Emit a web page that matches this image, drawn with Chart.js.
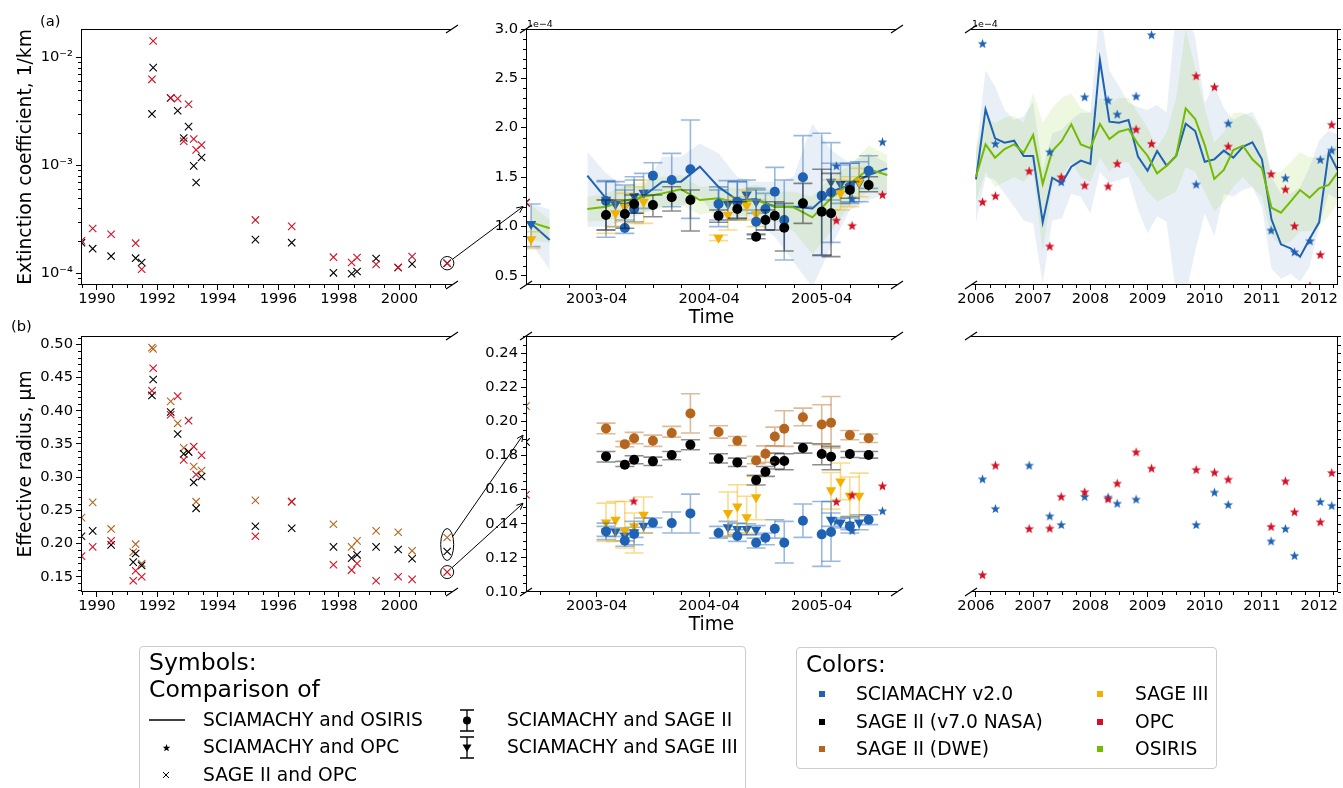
<!DOCTYPE html>
<html lang="en">
<head>
<meta charset="utf-8">
<title>SCIAMACHY aerosol comparisons</title>
<script src="https://cdn.jsdelivr.net/npm/chart.js@4.4.1/dist/chart.umd.min.js"></script>
<style>
  html, body { margin: 0; padding: 0; background: #ffffff; }
  #page { position: relative; width: 1343px; height: 788px; overflow: hidden; background: #ffffff;
          font-family: 'DejaVu Sans', sans-serif; color: #000; }
  #page canvas { position: absolute; left: 0; top: 0; }
  .txt { position: absolute; white-space: nowrap; line-height: 1; }
  .box { position: absolute; border: 1px solid #cccccc; border-radius: 4px; background: #ffffff; }
  .sq { position: absolute; width: 6px; height: 6px; }
  .sym { position: absolute; line-height: 0; }
</style>
</head>
<body>
<div id="page">
  <div class="box" style="left:139px; top:646px; width:605px; height:170px;"></div>
  <div class="box" style="left:796px; top:647px; width:419px; height:120px;"></div>
</div>
<script>
// ---------- SAGE II vs OPC, 1989-2001 (left column) ----------
const extYears = [1989.49, 1989.86, 1990.47, 1991.28, 1991.48, 1991.82, 1991.86, 1992.44, 1992.67, 1992.87, 1993.03, 1993.20,
                  1993.28, 1993.46, 1995.24, 1996.44, 1997.82, 1998.42, 1998.60, 1999.23, 1999.96, 2000.42, 2001.58];
const extSage2 = [1.92e-4, 1.69e-4, 1.44e-4, 1.38e-4, 1.26e-4, 2.99e-3, 8.02e-3, 4.20e-3, 3.20e-3, 1.79e-3, 2.28e-3, 9.87e-4,
                  6.92e-4, 1.18e-3, 2.05e-4, 1.92e-4, 1.01e-4, 0.99e-4, 1.04e-4, 1.37e-4, 1.13e-4, 1.22e-4, 1.24e-4];
const extOpc   = [2.00e-4, 2.60e-4, 2.30e-4, 1.90e-4, 1.09e-4, 6.25e-3, 1.415e-2, 4.20e-3, 4.14e-3, 1.67e-3, 3.67e-3, 1.75e-3,
                  1.39e-3, 1.54e-3, 3.12e-4, 2.72e-4, 1.41e-4, 1.26e-4, 1.40e-4, 1.21e-4, 1.13e-4, 1.43e-4, 1.24e-4];

const radYears = [1989.49, 1989.86, 1990.47, 1991.20, 1991.28, 1991.48, 1991.82, 1991.86, 1992.44, 1992.67, 1992.87, 1993.03,
                  1993.20, 1993.28, 1993.46, 1995.24, 1996.44, 1997.82, 1998.42, 1998.60, 1999.23, 1999.96, 2000.42, 2001.58];
const radDwe   = [0.239, 0.262, 0.222, 0.187, 0.199, 0.170, 0.495, 0.493, 0.414, 0.381, 0.344, 0.338,
                  0.316, 0.263, 0.310, 0.265, 0.263, 0.229, 0.195, 0.204, 0.219, 0.217, 0.189, 0.209];
const radNasa  = [0.211, 0.219, 0.198, 0.172, 0.185, 0.167, 0.423, 0.447, 0.398, 0.365, 0.335, 0.338,
                  0.292, 0.253, 0.301, 0.226, 0.223, 0.195, 0.178, 0.183, 0.195, 0.191, 0.177, 0.188];
const radOpc   = [0.181, 0.195, 0.204, 0.144, 0.159, 0.150, 0.430, 0.464, 0.394, 0.422, 0.326, 0.385,
                  0.346, 0.304, 0.333, 0.211, 0.263, 0.168, 0.160, 0.170, 0.144, 0.150, 0.146, 0.157];

// ---------- 2002-2005 (middle column), extinction in 1e-4 / km ----------
const midLineYearsEarly = [2002.667, 2002.833];
const midLineYears = [2003.167, 2003.333, 2003.5, 2003.667, 2003.833, 2004.0, 2004.167, 2004.333, 2004.5,
                      2004.667, 2004.833, 2005.0, 2005.167, 2005.333, 2005.5, 2005.667, 2005.833];
const sciaOsirisEarly = [1.03, 0.861];
const osirisEarly     = [1.04, 0.98];
const sciaOsiris = [1.514, 1.284, 1.223, 1.307, 1.453, 1.453, 1.605, 1.40, 1.267, 1.274, 1.199, 1.199, 1.182, 1.351, 1.419, 1.520, 1.588];
const osiris     = [1.176, 1.199, 1.26, 1.30, 1.334, 1.375, 1.267, 1.284, 1.240, 1.267, 1.199, 1.193, 1.091, 1.284, 1.436, 1.578, 1.520];
const sciaBandHiEarly = [1.23, 1.17];
const sciaBandLoEarly = [0.83, 0.56];
const sciaBandHi = [1.757, 1.537, 1.40, 1.40, 1.706, 1.706, 1.84, 1.74, 1.50, 1.453, 1.453, 1.50, 2.04, 1.774, 1.64, 1.74, 1.64];
const sciaBandLo = [0.997, 0.997, 1.064, 1.13, 1.20, 1.20, 1.30, 1.064, 1.098, 1.047, 0.895, 0.642, 0.38, 0.794, 1.166, 1.267, 1.334];
const osirisBandHiEarly = [1.216, 1.064];
const osirisBandLoEarly = [0.861, 0.83];
const osirisBandHi = [1.30, 1.33, 1.42, 1.45, 1.50, 1.52, 1.40, 1.42, 1.38, 1.42, 1.35, 1.35, 1.30, 1.50, 1.62, 1.82, 1.72];
const osirisBandLo = [1.05, 1.06, 1.10, 1.15, 1.18, 1.22, 1.12, 1.15, 1.10, 1.12, 1.05, 0.95, 0.72, 0.95, 1.22, 1.35, 1.32];

const sage2Years = [2003.333, 2003.5, 2003.583, 2003.75, 2003.917, 2004.083, 2004.333, 2004.5, 2004.667,
                    2004.75, 2004.833, 2004.917, 2005.083, 2005.25, 2005.333, 2005.5, 2005.667];
const sciaVsSage2Ext   = [1.257, 0.983, 1.176, 1.514, 1.470, 1.578, 1.226, 1.25, 1.047, 1.176, 1.351, 1.064, 1.497, 1.311, 1.345, 1.40, 1.564];
const sciaVsSage2ExtLo = [0.889, 0.929, 1.047, 1.368, 1.199, 1.081, 1.064, 1.081, 0.912, 0.963, 1.216, 0.659, 1.20, 0.703, 0.838, 1.233, 1.385];
const sciaVsSage2ExtHi = [1.463, 1.419, 1.503, 1.645, 1.740, 2.078, 1.368, 1.453, 1.368, 1.334, 1.598, 1.470, 1.919, 1.943, 1.848, 1.639, 1.716];
const sage2Ext   = [1.115, 1.125, 1.226, 1.216, 1.294, 1.267, 1.108, 1.176, 0.895, 1.064, 1.108, 0.986, 1.233, 1.149, 1.132, 1.368, 1.419];
const sage2ExtLo = [0.963, 0.980, 1.132, 1.098, 1.155, 0.953, 1.041, 1.081, 0.875, 0.963, 0.963, 0.75, 1.03, 0.709, 0.693, 1.284, 1.351];
const sage2ExtHi = [1.267, 1.267, 1.318, 1.318, 1.402, 1.368, 1.166, 1.25, 0.922, 1.166, 1.25, 1.233, 1.436, 1.578, 1.537, 1.453, 1.503];

const sage3Years = [2002.667, 2003.333, 2003.417, 2003.5, 2003.583, 2003.667, 2004.333, 2004.417, 2004.5,
                    2004.583, 2004.667, 2005.333, 2005.417, 2005.5, 2005.583];
const sciaVsSage3Ext   = [1.024, 1.27, 1.223, 1.20, 1.307, 1.341, 1.22, 1.226, 1.25, 1.324, 1.25, 1.453, 1.429, 1.40, 1.44];
const sciaVsSage3ExtLo = [0.794, 0.963, 0.997, 1.064, 1.132, 1.182, 0.997, 1.064, 1.064, 1.166, 1.132, 1.267, 1.233, 1.25, 1.25];
const sciaVsSage3ExtHi = [1.226, 1.453, 1.453, 1.368, 1.47, 1.537, 1.40, 1.463, 1.453, 1.47, 1.385, 1.639, 1.622, 1.639, 1.655];
const sage3Ext   = [0.868, 1.25, 1.132, 1.199, 1.21, 1.25, 0.885, 1.115, 1.20, 1.209, 1.122, 1.334, 1.334, 1.38, 1.453];
const sage3ExtLo = [0.777, 0.929, 0.997, 1.047, 1.03, 1.03, 0.855, 0.963, 1.064, 1.064, 0.997, 1.166, 1.166, 1.20, 1.30];
const sage3ExtHi = [0.946, 1.267, 1.267, 1.334, 1.402, 1.47, 0.912, 1.267, 1.30, 1.368, 1.267, 1.47, 1.47, 1.503, 1.588];

const opcMidYears = [2003.58, 2005.38, 2005.52, 2005.79];
const sciaVsOpcMidExt = [null, 1.615, 1.284, 1.858];
const opcMidExt       = [null, 1.064, 1.01, 1.324];

// ---------- 2002-2005 (middle column), effective radius in µm ----------
const sciaVsSage2Rad   = [0.1355, 0.1301, 0.134, 0.1406, 0.1404, 0.1461, 0.1346, 0.1328, 0.1289, 0.1318, 0.1371, 0.1289, 0.1418, 0.1338, 0.1352, 0.1385, 0.1424];
const sciaVsSage2RadLo = [0.1307, 0.1268, 0.1277, 0.1379, 0.1346, 0.1346, 0.1316, 0.1297, 0.1258, 0.1277, 0.1316, 0.1170, 0.1320, 0.1150, 0.1180, 0.1346, 0.1395];
const sciaVsSage2RadHi = [0.1404, 0.1346, 0.1414, 0.1434, 0.1469, 0.1574, 0.1385, 0.1365, 0.1316, 0.1346, 0.1424, 0.1414, 0.1516, 0.1531, 0.1531, 0.1443, 0.1453];
const sage2NasaRad   = [0.1795, 0.1746, 0.1775, 0.1766, 0.1803, 0.1863, 0.1781, 0.1760, 0.1656, 0.1705, 0.1768, 0.1768, 0.1844, 0.1809, 0.1793, 0.1809, 0.1803];
const sage2NasaRadLo = [0.1762, 0.1736, 0.1752, 0.1742, 0.1775, 0.1834, 0.1756, 0.1736, 0.1627, 0.1678, 0.1721, 0.1717, 0.1814, 0.1746, 0.1717, 0.1789, 0.1785];
const sage2NasaRadHi = [0.1824, 0.1766, 0.1799, 0.1791, 0.1824, 0.1893, 0.1811, 0.1785, 0.1684, 0.1736, 0.1814, 0.1811, 0.1873, 0.1869, 0.1854, 0.1824, 0.1824];
const sage2DweRad   = [0.1959, 0.1867, 0.1902, 0.1887, 0.1932, 0.2047, 0.1938, 0.1887, 0.1771, 0.1811, 0.1912, 0.1957, 0.2025, 0.1982, 0.1992, 0.1920, 0.1902];
const sage2DweRadLo = [0.1928, 0.1852, 0.1869, 0.1854, 0.1908, 0.1932, 0.1902, 0.1859, 0.1752, 0.1760, 0.1857, 0.1854, 0.1975, 0.1863, 0.1844, 0.1893, 0.1877];
const sage2DweRadHi = [0.1990, 0.1883, 0.1936, 0.1920, 0.1971, 0.2162, 0.1975, 0.1912, 0.1795, 0.1857, 0.1967, 0.2063, 0.2078, 0.2098, 0.2146, 0.1947, 0.1926];

const sciaVsSage3Rad   = [null, 0.1355, 0.1355, 0.133, 0.135, 0.1389, null, 0.1379, 0.1369, 0.1369, 0.1365, 0.1424, 0.1408, 0.1395, 0.1408];
const sciaVsSage3RadLo = [null, 0.1326, 0.1326, 0.130, 0.132, 0.1346, null, 0.1326, 0.1336, 0.1336, 0.1336, 0.1385, 0.1375, 0.1365, 0.1365];
const sciaVsSage3RadHi = [null, 0.1385, 0.1375, 0.136, 0.138, 0.1434, null, 0.1414, 0.1404, 0.1400, 0.1389, 0.1463, 0.1434, 0.1434, 0.1453];
const sage3Rad   = [null, 0.1408, 0.1424, 0.1361, 0.1385, 0.1453, null, 0.1463, 0.1502, 0.1439, 0.1555, 0.1596, 0.1648, 0.1564, 0.1564];
const sage3RadLo = [null, 0.1297, 0.1297, 0.1258, 0.1229, 0.1346, null, 0.1326, 0.1346, 0.1346, 0.1424, 0.1486, 0.1541, 0.1443, 0.1443];
const sage3RadHi = [null, 0.1521, 0.1531, 0.1531, 0.1463, 0.1557, null, 0.1586, 0.1629, 0.1561, 0.1678, 0.1701, 0.1756, 0.1674, 0.1697];

const sciaVsOpcMidRad = [null, 0.1415, 0.1361, 0.1477];
const opcMidRad       = [0.1535, 0.1531, 0.157, 0.1623];

// ---------- 2006-2012 (right column) ----------
const osirisYears = [2006.0, 2006.167, 2006.333, 2006.5, 2006.667, 2006.833, 2007.0, 2007.167, 2007.333, 2007.5,
                     2007.667, 2007.833, 2008.0, 2008.167, 2008.333, 2008.5, 2008.667, 2008.833, 2009.0, 2009.167,
                     2009.333, 2009.5, 2009.667, 2009.833, 2010.0, 2010.167, 2010.333, 2010.5, 2010.667, 2010.833,
                     2011.0, 2011.167, 2011.333, 2011.5, 2011.667, 2011.833, 2012.0, 2012.167, 2012.333];
const sciaOsirisLate = [1.476, 2.186, 1.892, 1.848, 1.868, 1.713, 1.713, 1.041, 1.493, 1.436,
                        1.605, 1.666, 1.632, 2.686, 2.061, 2.051, 2.078, 1.706, 1.564, 1.764,
                        1.615, 1.713, 2.041, 1.966, 1.655, 1.679, 1.767, 1.696, 1.807, 1.851,
                        1.679, 1.071, 0.818, 0.777, 0.693, 0.872, 1.041, 1.747, 1.561];
const osirisLate = [1.503, 1.831, 1.696, 1.784, 1.831, 1.747, 1.926, 1.429, 1.764, 1.865,
                    2.034, 1.831, 1.791, 2.037, 1.885, 1.959, 1.986, 1.834, 1.716, 1.537,
                    1.615, 1.716, 2.196, 2.088, 1.824, 1.480, 1.571, 1.774, 1.818, 1.679,
                    1.588, 1.189, 1.139, 1.250, 1.368, 1.291, 1.385, 1.419, 1.554];
const sciaBandHiLate = [1.74, 2.58, 2.42, 2.18, 2.08, 2.11, 2.26, 1.57, 1.94, 1.98,
                        2.08, 2.15, 2.15, 3.2, 2.58, 2.42, 2.25, 2.21, 2.18, 2.23,
                        2.15, 3.2, 3.2, 2.92, 2.25, 2.43, 2.20, 2.08, 2.13, 2.16,
                        1.98, 1.50, 1.33, 1.33, 1.40, 1.60, 1.87, 1.97, 1.93];
const sciaBandLoLate = [1.04, 1.50, 1.47, 1.33, 1.20, 1.06, 1.03, 0.42, 1.06, 1.08,
                        1.33, 1.30, 1.13, 1.55, 1.44, 1.47, 1.50, 1.17, 0.93, 1.10,
                        1.05, 0.30, 0.30, 0.75, 1.13, 0.90, 1.33, 1.30, 1.37, 1.40,
                        1.20, 0.57, 0.47, 0.52, 0.44, 0.59, 1.00, 1.33, 1.27];
const osirisBandHiLate = [1.80, 2.10, 2.05, 2.10, 2.12, 2.05, 2.35, 2.05, 2.20, 2.30,
                          2.35, 2.20, 2.15, 2.30, 2.25, 2.30, 2.30, 2.15, 2.00, 1.80,
                          1.95, 2.30, 3.00, 2.60, 2.20, 1.85, 1.95, 2.15, 2.15, 2.10,
                          1.95, 1.55, 1.55, 1.65, 1.75, 1.70, 1.70, 1.75, 1.85];
const osirisBandLoLate = [1.25, 1.55, 1.40, 1.45, 1.50, 1.45, 1.55, 0.75, 1.40, 1.50,
                          1.65, 1.50, 1.45, 1.70, 1.55, 1.65, 1.65, 1.50, 1.35, 1.25,
                          1.30, 1.35, 1.60, 1.55, 1.35, 1.15, 1.25, 1.40, 1.50, 1.40,
                          1.30, 0.90, 0.80, 0.85, 0.95, 0.95, 1.00, 1.10, 1.25];

const opcYears = [2006.115, 2006.34, 2006.93, 2007.29, 2007.49, 2007.90, 2008.31, 2008.47, 2008.80, 2009.07,
                  2009.85, 2010.17, 2010.41, 2011.16, 2011.41, 2011.57, 2011.84, 2012.02, 2012.22];
const sciaVsOpcExt = [2.855, 1.841, null, 1.757, 1.453, 2.314, 2.280, 2.139, 2.321, 2.943,
                      1.429, null, 2.047, 0.963, 1.493, 0.743, 0.855, 1.679, 1.774];
const opcExt = [1.25, 1.311, 1.564, 0.801, 1.503, 1.419, 1.409, 1.639, 1.986, 1.841,
                2.527, 2.416, 1.814, 1.534, 1.378, 1.007, 0.399, 0.716, 2.034];
const sciaVsOpcRad = [0.1664, 0.149, 0.1744, 0.1447, 0.1396, 0.1561, 0.1557, 0.1521, 0.1545, null,
                      0.1396, 0.1586, 0.1514, 0.130, 0.1373, 0.1215, null, 0.1531, 0.1508];
const opcRad = [0.1102, 0.1744, 0.1373, 0.1375, 0.1561, 0.1588, 0.1547, 0.1639, 0.1822, 0.1727,
                0.1719, 0.1703, 0.1662, 0.1385, 0.1652, 0.1471, null, 0.1412, 0.1701];

// ---------- tick values and labels ----------
const leftYearTicks = [1990, 1992, 1994, 1996, 1998, 2000];
const leftYearLabels = ['1990', '1992', '1994', '1996', '1998', '2000'];
const midMonthTicks = [2003.25, 2004.25, 2005.25];
const midMonthLabels = ['2003-04', '2004-04', '2005-04'];
const rightYearTicks = [2006, 2007, 2008, 2009, 2010, 2011, 2012];
const rightYearLabels = ['2006', '2007', '2008', '2009', '2010', '2011', '2012'];
const extLogTicks = [1e-4, 1e-3, 1e-2];
const extLogLabels = ['10\u207B\u2074', '10\u207B\u00B3', '10\u207B\u00B2'];
const radLeftTicks = [0.15, 0.20, 0.25, 0.30, 0.35, 0.40, 0.45, 0.50];
const radLeftLabels = ['0.15', '0.20', '0.25', '0.30', '0.35', '0.40', '0.45', '0.50'];
const extTicks = [0.5, 1.0, 1.5, 2.0, 2.5, 3.0];
const extLabels = ['0.5', '1.0', '1.5', '2.0', '2.5', '3.0'];
const radTicks = [0.10, 0.12, 0.14, 0.16, 0.18, 0.20, 0.22, 0.24];
const radLabels = ['0.10', '0.12', '0.14', '0.16', '0.18', '0.20', '0.22', '0.24'];

// ---------- colours ----------
const SCIA = '#1f62b3', NASA = '#000000', DWE = '#b5651d', SAGE3 = '#f2b000', OPC = '#d50f25', OSIRIS = '#73bb00';

// ---------- page layout ----------
const PW = 1343, PH = 788;
const rowA = { top: 29, bottom: 285 }, rowB = { top: 336, bottom: 592 };
const colL = { left: 81, right: 452 }, colM = { left: 526, right: 897 }, colR = { left: 971, right: 1342 };
const LEFT_YW = 70.2, MID_YW = 50, SIDE_XH = 30, MID_XH = 48.2;

const xLeft = { min: 1989.474, max: 2001.739 };
const xMid = { min: 2002.622, max: 2005.919 };
const xRight = { min: 2005.913, max: 2012.33 };

const page = document.getElementById('page');
const last = a => a[a.length - 1];

Chart.defaults.font.family = "'DejaVu Sans', sans-serif";
Chart.defaults.font.size = 14.7;
Chart.defaults.color = '#000';

function rgba(hex, a) {
    const n = parseInt(hex.slice(1), 16);
    return `rgba(${n >> 16},${(n >> 8) & 255},${n & 255},${a})`;
}

function pts(xs, ys) {
    return xs.map((x, i) => ({ x, y: ys[i] }));
}

// filled five-pointed star used as a point style
function starImage(color, size) {
    const c = document.createElement('canvas');
    c.width = c.height = size;
    const g = c.getContext('2d');
    const R = size / 2 - 0.5, r = R * 0.42, m = size / 2;
    g.beginPath();
    for (let i = 0; i < 10; i++) {
        const a = -Math.PI / 2 + i * Math.PI / 5;
        const rr = i % 2 ? r : R;
        g.lineTo(m + rr * Math.cos(a), m + 0.6 + rr * Math.sin(a));
    }
    g.closePath();
    g.fillStyle = color;
    g.fill();
    return c;
}
const STAR_SCIA = starImage(SCIA, 11);
const STAR_OPC = starImage(OPC, 11);

// ---------- dataset builders ----------
function crosses(xs, ys, color, order) {
    return { data: pts(xs, ys), showLine: false, clip: 0, order,
        pointStyle: 'crossRot', pointRadius: 5.2, pointHoverRadius: 5.2,
        pointBorderColor: color, pointBackgroundColor: color, pointBorderWidth: 1.1 };
}
function markers(xs, ys, color, style, order, lo, hi) {
    const tri = style === 'triangle';
    return { data: pts(xs, ys), showLine: false, clip: 0, order,
        pointStyle: style, pointRadius: tri ? 6 : 5, pointHoverRadius: tri ? 6 : 5, pointRotation: tri ? 180 : 0,
        pointBackgroundColor: color, pointBorderColor: color, pointBorderWidth: 0,
        errLo: lo, errHi: hi, errColor: rgba(color, 0.45) };
}
function stars(xs, ys, img, order) {
    return { data: pts(xs, ys), showLine: false, clip: 0, order,
        pointStyle: img, pointRadius: 5, pointHoverRadius: 5, pointBorderWidth: 0 };
}
function curve(xs, ys, color, order) {
    return { data: pts(xs, ys), showLine: true, clip: 0, order, fill: false,
        borderColor: color, borderWidth: 2, pointRadius: 0, pointHoverRadius: 0 };
}
function band(xs, hi, lo, color, order) {
    const edge = { showLine: true, clip: 0, order, borderWidth: 0, borderColor: 'rgba(0,0,0,0)', pointRadius: 0, pointHoverRadius: 0 };
    return [
        Object.assign({ data: pts(xs, hi), fill: '+1', backgroundColor: color }, edge),
        Object.assign({ data: pts(xs, lo), fill: false }, edge)
    ];
}

// ---------- axes ----------
function axis(o) {
    return {
        type: o.type || 'linear', position: o.position, min: o.min, max: o.max, bounds: 'data',
        display: o.display !== false,
        afterBuildTicks: s => { s.ticks = o.ticks.map(v => ({ value: v })); },
        afterFit: s => {
            if (s.isHorizontal()) s.height = o.size; else s.width = o.size;
            s.paddingLeft = s.paddingRight = s.paddingTop = s.paddingBottom = 0;
        },
        ticks: { autoSkip: false, maxRotation: 0, minRotation: 0, padding: o.pad, font: { size: 14.7 }, color: '#000',
                 callback: (v, i) => o.labels[i] },
        grid: { drawOnChartArea: false, drawTicks: true, tickLength: 5, color: '#000', tickColor: '#000', tickWidth: 1, lineWidth: 1 },
        border: { display: false },
        title: { display: !!o.title, text: o.title || '', font: { size: 18.7 }, color: '#000', padding: { top: 4, bottom: 4 } }
    };
}

function steps(a, b, step, skip) {
    const out = [];
    for (let k = Math.ceil(a / step - 1e-9); k * step <= b + 1e-9; k++) {
        const v = +(k * step).toFixed(6);
        if (!(skip || []).some(m => Math.abs(m - v) < 1e-6)) out.push(v);
    }
    return out;
}
function logMinors(min, max) {
    const out = [];
    for (let e = -5; e <= -1; e++) for (let m = 2; m <= 9; m++) {
        const v = m * Math.pow(10, e);
        if (v >= min && v <= max) out.push(v);
    }
    return out;
}

// ---------- drawing helpers ----------
function ringGeom(chart, r) {
    const px = chart.scales.x.getPixelForValue(r.x);
    const py = r.ys.map(v => chart.scales.y.getPixelForValue(v));
    const lo = Math.min(...py), hi = Math.max(...py);
    return { cx: px, cy: (lo + hi) / 2, rx: r.rx, ry: (hi - lo) / 2 + r.pad };
}

function drawArrow(ctx, x0, y0, x1, y1) {
    const ang = Math.atan2(y1 - y0, x1 - x0), L = 7, s = 0.45;
    ctx.beginPath();
    ctx.moveTo(x0, y0);
    ctx.lineTo(x1, y1);
    ctx.moveTo(x1 - L * Math.cos(ang - s), y1 - L * Math.sin(ang - s));
    ctx.lineTo(x1, y1);
    ctx.lineTo(x1 - L * Math.cos(ang + s), y1 - L * Math.sin(ang + s));
    ctx.stroke();
}

// vertical error bars with caps, drawn just under their markers
const errorBars = {
    id: 'errorBars',
    beforeDatasetDraw(chart, args) {
        const ds = chart.data.datasets[args.index];
        if (!ds.errLo) return;
        const { ctx, chartArea: a, scales: { x, y } } = chart;
        ctx.save();
        ctx.beginPath();
        ctx.rect(a.left, a.top, a.right - a.left, a.bottom - a.top);
        ctx.clip();
        ctx.strokeStyle = ds.errColor;
        ctx.lineWidth = 1.6;
        ds.data.forEach((p, i) => {
            if (p.y == null || ds.errLo[i] == null) return;
            const px = x.getPixelForValue(p.x);
            const y1 = y.getPixelForValue(ds.errLo[i]), y2 = y.getPixelForValue(ds.errHi[i]);
            ctx.beginPath();
            ctx.moveTo(px, y1); ctx.lineTo(px, y2);
            ctx.moveTo(px - 9.5, y1); ctx.lineTo(px + 9.5, y1);
            ctx.moveTo(px - 9.5, y2); ctx.lineTo(px + 9.5, y2);
            ctx.stroke();
        });
        ctx.restore();
    }
};

// spines, minor ticks, axis-break marks and rings around highlighted points
const frame = {
    id: 'frame',
    afterDraw(chart, args, o) {
        if (!o.spines) return;
        const { ctx, chartArea: a, scales: { x, y } } = chart;
        ctx.save();
        ctx.strokeStyle = '#000';
        ctx.lineWidth = 1;
        ctx.beginPath();
        const L = a.left + 0.5, R = a.right - 0.5, T = a.top + 0.5, B = a.bottom - 0.5;
        if (o.spines.includes('left')) { ctx.moveTo(L, a.top); ctx.lineTo(L, a.bottom); }
        if (o.spines.includes('right')) { ctx.moveTo(R, a.top); ctx.lineTo(R, a.bottom); }
        if (o.spines.includes('top')) { ctx.moveTo(a.left, T); ctx.lineTo(a.right, T); }
        if (o.spines.includes('bottom')) { ctx.moveTo(a.left, B); ctx.lineTo(a.right, B); }
        (o.minorX || []).forEach(v => {
            const px = Math.round(x.getPixelForValue(v)) + 0.5;
            if (px < a.left - 1 || px > a.right + 1) return;
            ctx.moveTo(px, a.bottom); ctx.lineTo(px, a.bottom + 3);
        });
        const right = o.ySide === 'right';
        const yx = right ? a.right : a.left, dir = right ? 1 : -1;
        (o.minorY || []).forEach(v => {
            const py = Math.round(y.getPixelForValue(v)) + 0.5;
            if (py < a.top - 1 || py > a.bottom + 1) return;
            ctx.moveTo(yx, py); ctx.lineTo(yx + dir * 3, py);
        });
        (o.majorY || []).forEach(v => {
            const py = Math.round(y.getPixelForValue(v)) + 0.5;
            ctx.moveTo(yx, py); ctx.lineTo(yx + dir * 5, py);
        });
        ctx.stroke();
        ctx.lineWidth = 1.2;
        ctx.beginPath();
        (o.breaks || []).forEach(([sx, sy]) => {
            const cx = sx === 'left' ? a.left : a.right, cy = sy === 'top' ? a.top : a.bottom;
            ctx.moveTo(cx - 6, cy + 4); ctx.lineTo(cx + 6, cy - 4);
        });
        ctx.stroke();
        ctx.lineWidth = 1;
        (o.rings || []).forEach(r => {
            const g = ringGeom(chart, r);
            ctx.beginPath();
            ctx.ellipse(g.cx, g.cy, g.rx, g.ry, 0, 0, 2 * Math.PI);
            ctx.stroke();
        });
        ctx.restore();
    }
};
Chart.register(errorBars, frame);

// arrows from ringed points in the 1990s panel to the left edge of the 2003-05 panel
function links(src, list) {
    return {
        id: 'links',
        afterDraw(chart) {
            const { ctx, chartArea: a, scales: { y } } = chart;
            ctx.save();
            ctx.strokeStyle = '#000';
            ctx.lineWidth = 1;
            list.forEach(l => {
                const g = ringGeom(src, l.ring);
                const ex = a.left - 3, ey = y.getPixelForValue(l.target);
                const dx = ex - g.cx, dy = ey - g.cy;
                const t = 1 / Math.hypot(dx / g.rx, dy / g.ry);
                drawArrow(ctx, g.cx + dx * t, g.cy + dy * t, ex, ey);
            });
            ctx.restore();
        }
    };
}

function panel(area, yW, xH, xAx, yAx, datasets, frameOpts, plugins) {
    const c = document.createElement('canvas');
    c.width = PW; c.height = PH;
    page.appendChild(c);
    return new Chart(c, {
        type: 'line',
        data: { datasets },
        options: {
            responsive: false, animation: false, devicePixelRatio: 1, events: [],
            layout: { padding: { left: area.left - yW, top: area.top, right: PW - area.right, bottom: PH - area.bottom - xH } },
            plugins: { legend: { display: false }, tooltip: { enabled: false }, frame: frameOpts },
            scales: { x: xAx, y: yAx }
        },
        plugins: plugins || []
    });
}

// ---------- row (a): extinction ----------
const ringA = { x: last(extYears), ys: [last(extOpc)], rx: 6.7, pad: 6.7 };
const extLogMin = 7.79e-5, extLogMax = 1.828e-2;

const chartLA = panel({ ...colL, ...rowA }, LEFT_YW, SIDE_XH,
    axis({ ...xLeft, ticks: leftYearTicks, labels: leftYearLabels, size: SIDE_XH, pad: 0 }),
    axis({ type: 'logarithmic', min: extLogMin, max: extLogMax, ticks: extLogTicks, labels: extLogLabels,
           size: LEFT_YW, pad: 3, title: 'Extinction coefficient, 1/km' }),
    [crosses(extYears, extSage2, NASA, 2), crosses(extYears, extOpc, OPC, 1)],
    { spines: ['left', 'top', 'bottom'], breaks: [['right', 'top'], ['right', 'bottom']],
      minorX: steps(1989.5, 2001.5, 0.5, leftYearTicks), minorY: logMinors(extLogMin, extLogMax), rings: [ringA] });

const chartMA = panel({ ...colM, ...rowA }, MID_YW, MID_XH,
    axis({ ...xMid, ticks: midMonthTicks, labels: midMonthLabels, size: MID_XH, pad: 0, title: 'Time' }),
    axis({ min: 0.4056, max: 3.0, ticks: extTicks, labels: extLabels, size: MID_YW, pad: 3 }),
    [
        ...band(midLineYearsEarly, sciaBandHiEarly, sciaBandLoEarly, rgba(SCIA, 0.1), 60),
        ...band(midLineYears, sciaBandHi, sciaBandLo, rgba(SCIA, 0.1), 60),
        ...band(midLineYearsEarly, osirisBandHiEarly, osirisBandLoEarly, rgba(OSIRIS, 0.12), 55),
        ...band(midLineYears, osirisBandHi, osirisBandLo, rgba(OSIRIS, 0.12), 55),
        curve(midLineYearsEarly, sciaOsirisEarly, SCIA, 41), curve(midLineYears, sciaOsiris, SCIA, 41),
        curve(midLineYearsEarly, osirisEarly, OSIRIS, 40), curve(midLineYears, osiris, OSIRIS, 40),
        markers(sage3Years, sciaVsSage3Ext, SCIA, 'triangle', 31, sciaVsSage3ExtLo, sciaVsSage3ExtHi),
        markers(sage3Years, sage3Ext, SAGE3, 'triangle', 30, sage3ExtLo, sage3ExtHi),
        markers(sage2Years, sciaVsSage2Ext, SCIA, 'circle', 21, sciaVsSage2ExtLo, sciaVsSage2ExtHi),
        markers(sage2Years, sage2Ext, NASA, 'circle', 20, sage2ExtLo, sage2ExtHi),
        stars(opcMidYears, sciaVsOpcMidExt, STAR_SCIA, 11), stars(opcMidYears, opcMidExt, STAR_OPC, 10),
        crosses([xMid.min], [last(extSage2) * 1e4], NASA, 6), crosses([xMid.min], [last(extOpc) * 1e4], OPC, 5)
    ],
    { spines: ['left', 'top', 'bottom'], breaks: [['left', 'top'], ['left', 'bottom'], ['right', 'top'], ['right', 'bottom']],
      minorX: steps(2002.75, 2005.75, 0.25, midMonthTicks), minorY: steps(0.5, 3.0, 0.1, extTicks) },
    [links(chartLA, [{ ring: ringA, target: 1.2 }])]);

const chartRA = panel({ ...colR, ...rowA }, 0, SIDE_XH,
    axis({ ...xRight, ticks: rightYearTicks, labels: rightYearLabels, size: SIDE_XH, pad: 0 }),
    axis({ min: 0.4056, max: 3.0, ticks: extTicks, labels: extLabels, size: 0, pad: 3, display: false }),
    [
        ...band(osirisYears, sciaBandHiLate, sciaBandLoLate, rgba(SCIA, 0.1), 60),
        ...band(osirisYears, osirisBandHiLate, osirisBandLoLate, rgba(OSIRIS, 0.12), 55),
        curve(osirisYears, sciaOsirisLate, SCIA, 41), curve(osirisYears, osirisLate, OSIRIS, 40),
        stars(opcYears, sciaVsOpcExt, STAR_SCIA, 11), stars(opcYears, opcExt, STAR_OPC, 10)
    ],
    { spines: ['top', 'right', 'bottom'], breaks: [['left', 'top'], ['left', 'bottom']],
      minorX: steps(2006, 2012.25, 0.25, rightYearTicks), minorY: steps(0.5, 3.0, 0.1), ySide: 'right' });

// ---------- row (b): effective radius ----------
const ringB1 = { x: last(radYears), ys: [last(radDwe), last(radNasa)], rx: 6.5, pad: 9 };
const ringB2 = { x: last(radYears), ys: [last(radOpc)], rx: 6.5, pad: 6.5 };

const chartLB = panel({ ...colL, ...rowB }, LEFT_YW, SIDE_XH,
    axis({ ...xLeft, ticks: leftYearTicks, labels: leftYearLabels, size: SIDE_XH, pad: 0 }),
    axis({ min: 0.127, max: 0.5125, ticks: radLeftTicks, labels: radLeftLabels, size: LEFT_YW, pad: 3,
           title: 'Effective radius, \u00B5m' }),
    [crosses(radYears, radDwe, DWE, 3), crosses(radYears, radNasa, NASA, 2), crosses(radYears, radOpc, OPC, 1)],
    { spines: ['left', 'top', 'bottom'], breaks: [['right', 'top'], ['right', 'bottom']],
      minorX: steps(1989.5, 2001.5, 0.5, leftYearTicks), minorY: steps(0.13, 0.51, 0.01, radLeftTicks), rings: [ringB1, ringB2] });

const chartMB = panel({ ...colM, ...rowB }, MID_YW, MID_XH,
    axis({ ...xMid, ticks: midMonthTicks, labels: midMonthLabels, size: MID_XH, pad: 0, title: 'Time' }),
    axis({ min: 0.10, max: 0.2501, ticks: radTicks, labels: radLabels, size: MID_YW, pad: 3 }),
    [
        markers(sage3Years, sciaVsSage3Rad, SCIA, 'triangle', 31, sciaVsSage3RadLo, sciaVsSage3RadHi),
        markers(sage3Years, sage3Rad, SAGE3, 'triangle', 30, sage3RadLo, sage3RadHi),
        markers(sage2Years, sciaVsSage2Rad, SCIA, 'circle', 22, sciaVsSage2RadLo, sciaVsSage2RadHi),
        markers(sage2Years, sage2NasaRad, NASA, 'circle', 21, sage2NasaRadLo, sage2NasaRadHi),
        markers(sage2Years, sage2DweRad, DWE, 'circle', 20, sage2DweRadLo, sage2DweRadHi),
        stars(opcMidYears, sciaVsOpcMidRad, STAR_SCIA, 11), stars(opcMidYears, opcMidRad, STAR_OPC, 10),
        crosses([xMid.min], [last(radDwe)], DWE, 7), crosses([xMid.min], [last(radNasa)], NASA, 6),
        crosses([xMid.min], [last(radOpc)], OPC, 5)
    ],
    { spines: ['left', 'top', 'bottom'], breaks: [['left', 'top'], ['left', 'bottom'], ['right', 'top'], ['right', 'bottom']],
      minorX: steps(2002.75, 2005.75, 0.25, midMonthTicks), minorY: steps(0.10, 0.25, 0.005, radTicks) },
    [links(chartLB, [{ ring: ringB1, target: 0.192 }, { ring: ringB2, target: 0.152 }])]);

const chartRB = panel({ ...colR, ...rowB }, 0, SIDE_XH,
    axis({ ...xRight, ticks: rightYearTicks, labels: rightYearLabels, size: SIDE_XH, pad: 0 }),
    axis({ min: 0.10, max: 0.2501, ticks: radTicks, labels: radLabels, size: 0, pad: 3, display: false }),
    [stars(opcYears, sciaVsOpcRad, STAR_SCIA, 11), stars(opcYears, opcRad, STAR_OPC, 10)],
    { spines: ['top', 'right', 'bottom'], breaks: [['left', 'top'], ['left', 'bottom']],
      minorX: steps(2006, 2012.25, 0.25, rightYearTicks), minorY: steps(0.10, 0.25, 0.005), ySide: 'right' });

// ---------- labels and legends ----------
function text(str, left, cy, size) {
    const d = document.createElement('div');
    d.className = 'txt';
    d.textContent = str;
    d.style.left = left + 'px';
    d.style.top = (cy - size * 0.5) + 'px';
    d.style.fontSize = size + 'px';
    page.appendChild(d);
}
function svg(left, top, w, h, inner) {
    const d = document.createElement('div');
    d.className = 'sym';
    d.style.left = left + 'px';
    d.style.top = top + 'px';
    d.innerHTML = `<svg width="${w}" height="${h}" xmlns="http://www.w3.org/2000/svg">${inner}</svg>`;
    page.appendChild(d);
}
function square(left, cy, color) {
    const d = document.createElement('div');
    d.className = 'sq';
    d.style.left = left + 'px';
    d.style.top = (cy - 3) + 'px';
    d.style.background = color;
    page.appendChild(d);
}

text('(a)', 40, 21, 14.7);
text('(b)', 11, 326, 14.7);
text('1e\u22124', 527, 23.5, 9.5);
text('1e\u22124', 972, 23.5, 9.5);

text('Symbols:', 149, 663, 23.5);
text('Comparison of', 149, 690, 23.5);
svg(149, 716, 36, 8, '<line x1="0" y1="4" x2="36" y2="4" stroke="#000" stroke-width="1.5"/>');
text('SCIAMACHY and OSIRIS', 203, 720, 18.7);
const legendStar = starImage('#000', 9);
legendStar.style.left = '161.5px';
legendStar.style.top = '742.5px';
page.appendChild(legendStar);
text('SCIAMACHY and OPC', 203, 747, 18.7);
svg(162, 771, 8, 8, '<path d="M1 1L7 7M7 1L1 7" stroke="#000" stroke-width="1"/>');
text('SAGE II and OPC', 203, 775, 18.7);
svg(459, 709, 16, 23, '<path d="M8 1V22M1 1H15M1 22H15" stroke="#000" stroke-width="1.3" fill="none"/><circle cx="8" cy="11.5" r="4" fill="#000"/>');
text('SCIAMACHY and SAGE II', 507, 720, 18.7);
svg(459, 736, 16, 23, '<path d="M8 1V22M1 1H15M1 22H15" stroke="#000" stroke-width="1.3" fill="none"/><path d="M3.5 8.5H12.5L8 16Z" fill="#000"/>');
text('SCIAMACHY and SAGE III', 507, 747, 18.7);

text('Colors:', 806, 664, 23);
square(819, 694, SCIA); text('SCIAMACHY v2.0', 856, 694, 18.7);
square(819, 722, NASA); text('SAGE II (v7.0 NASA)', 856, 722, 18.7);
square(819, 749, DWE); text('SAGE II (DWE)', 856, 749, 18.7);
square(1097, 694, SAGE3); text('SAGE III', 1135, 694, 18.7);
square(1097, 722, OPC); text('OPC', 1135, 722, 18.7);
square(1097, 749, OSIRIS); text('OSIRIS', 1135, 749, 18.7);
</script>
</body>
</html>
